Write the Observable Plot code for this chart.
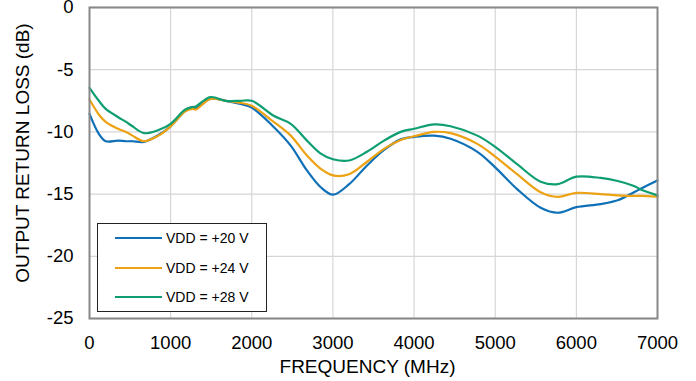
<!DOCTYPE html>
<html><head><meta charset="utf-8">
<script src="https://cdn.jsdelivr.net/npm/d3@7"></script>
<script src="https://cdn.jsdelivr.net/npm/@observablehq/plot@0.6"></script>
<style>body{margin:0;background:#fff;} #chart{width:696px;height:381px;}</style>
</head><body><div id="chart"></div>
<script>
const freq  = [0, 115, 200, 350, 450, 530, 670, 850, 1000, 1180, 1270, 1310, 1490, 1680, 1860, 2000, 2270, 2480, 2680, 2850, 3000, 3200, 3420, 3630, 3835, 4000, 4250, 4450, 4780, 5000, 5270, 5560, 5770, 6000, 6300, 6510, 6710, 6800, 7000];
const vdd20 = [-8.55, -10.15, -10.75, -10.7, -10.75, -10.75, -10.8, -10.25, -9.55, -8.3, -8.0, -8.1, -7.35, -7.5, -7.75, -8.05, -9.6, -11.1, -13.1, -14.45, -15.05, -14.2, -12.7, -11.45, -10.6, -10.4, -10.3, -10.55, -11.6, -12.85, -14.6, -16.1, -16.5, -16.05, -15.8, -15.5, -14.85, -14.55, -13.9];
const vdd24 = [-7.4, -8.6, -9.2, -9.75, -10.0, -10.3, -10.75, -10.3, -9.55, -8.35, -8.15, -8.2, -7.35, -7.5, -7.66, -7.9, -9.2, -10.3, -11.9, -12.97, -13.5, -13.4, -12.4, -11.36, -10.65, -10.35, -10.0, -10.1, -10.96, -11.98, -13.4, -14.85, -15.22, -14.9, -15.0, -15.1, -15.15, -15.15, -15.2];
const vdd28 = [-6.46, -7.5, -8.15, -8.8, -9.2, -9.55, -10.1, -9.85, -9.35, -8.2, -8.0, -7.95, -7.2, -7.5, -7.5, -7.5, -8.7, -9.35, -10.7, -11.75, -12.2, -12.3, -11.6, -10.7, -10.0, -9.75, -9.4, -9.55, -10.3, -11.2, -12.6, -14.0, -14.2, -13.6, -13.7, -13.95, -14.35, -14.65, -15.1];
const seriesNames  = ["VDD = +20 V", "VDD = +24 V", "VDD = +28 V"];
const seriesColors = ["#0f70b7", "#eca213", "#0e9e72"];
const xTicks = [0, 1000, 2000, 3000, 4000, 5000, 6000, 7000];
const yTicks = [0, -5, -10, -15, -20, -25];
const xTitle = "FREQUENCY (MHz)";
const yTitle = "OUTPUT RETURN LOSS (dB)";

const rows = [];
[vdd20, vdd24, vdd28].forEach((vals, i) => vals.forEach((v, j) => rows.push({f: freq[j], rl: v, s: seriesNames[i]})));

const chart = Plot.plot({
  width: 696, height: 381,
  marginLeft: 89, marginRight: 39, marginTop: 7, marginBottom: 63,
  style: {fontFamily: "'Liberation Sans', Arial, sans-serif", fontSize: "18.5px", color: "#000", background: "#fff", overflow: "visible"},
  x: {domain: [0, 7000]},
  y: {domain: [-25, 0]},
  color: {domain: seriesNames, range: seriesColors},
  marks: [
    Plot.gridX(xTicks, {stroke: "#cfcfcf", strokeOpacity: 1}),
    Plot.gridY(yTicks, {stroke: "#d6d6d6", strokeOpacity: 1, strokeWidth: 1.3}),
    Plot.axisX(xTicks, {tickSize: 0, tickPadding: 17, label: null, tickFormat: d => String(d)}),
    Plot.axisY(yTicks, {tickSize: 0, tickPadding: 16, label: null, tickFormat: d => String(d)}),
    Plot.line(rows, {x: "f", y: "rl", stroke: "s", z: "s", curve: "catmull-rom", strokeWidth: 2.2}),
    Plot.frame({stroke: "#888", strokeWidth: 2}),
    Plot.text([xTitle], {text: d => d, frameAnchor: "bottom", lineAnchor: "middle", textAnchor: "middle", dy: 48, dx: -6, fontSize: 19}),
    Plot.text([yTitle], {text: d => d, frameAnchor: "left", lineAnchor: "middle", textAnchor: "middle", rotate: -90, dx: -67, dy: -10, fontSize: 19})
  ]
});

const svg = d3.select(chart);
const lg = svg.append("g");
lg.append("rect").attr("x", 97.5).attr("y", 223.5).attr("width", 169).attr("height", 88)
  .attr("fill", "#fff").attr("stroke", "#222").attr("stroke-width", 1);
const rowY = [238, 268, 297];
seriesNames.forEach((name, i) => {
  lg.append("line").attr("x1", 115).attr("x2", 162).attr("y1", rowY[i]).attr("y2", rowY[i])
    .attr("stroke", seriesColors[i]).attr("stroke-width", 2.2);
  lg.append("text").attr("x", 166).attr("y", rowY[i]).attr("dy", "0.35em")
    .attr("text-anchor", "start").attr("font-size", 14).attr("fill", "#000").text(name);
});
document.getElementById("chart").appendChild(chart);
</script>
</body></html>
